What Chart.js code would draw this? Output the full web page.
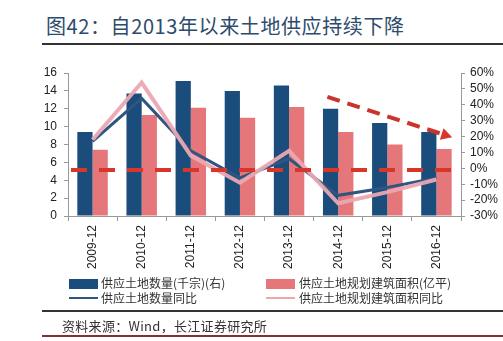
<!DOCTYPE html>
<html>
<head>
<meta charset="utf-8">
<script src="https://cdn.jsdelivr.net/npm/chart.js@4.4.1/dist/chart.umd.min.js"></script>
<style>
  body { margin: 0; width: 503px; height: 341px; background: #fff; position: relative; overflow: hidden;
         font-family: "Noto Sans CJK SC", "Noto Sans", sans-serif; }
  #title { position: absolute; left: 46px; top: 11px; font-size: 20px; color: #2d4b6c; letter-spacing: 0.6px; }
  .rule { position: absolute; left: 42px; right: 0; height: 2px; background: #333; }
  #chartBox { position: absolute; left: 0; top: 56px; width: 503px; height: 220px; }
  .leg { position: absolute; font-size: 12px; color: #333; line-height: 14px; white-space: nowrap; }
  .sw { position: absolute; }
  #source { position: absolute; left: 62px; top: 316px; font-size: 13px; color: #333; letter-spacing: 0.3px; }
  #bottomRule { position: absolute; left: 42px; right: 0; top: 335px; height: 2px; background: #8b2b2b; }
</style>
</head>
<body>
<div id="title">图42：自2013年以来土地供应持续下降</div>
<div class="rule" style="top:43px"></div>
<div id="chartBox"><canvas id="chart"></canvas></div>

<div class="sw" style="left:69px;top:279px;width:29px;height:10px;background:#1a4c7c"></div>
<div class="leg" style="left:101px;top:276px">供应土地数量(千宗)(右)</div>
<div class="sw" style="left:266px;top:279px;width:29px;height:10px;background:#e5777b"></div>
<div class="leg" style="left:299px;top:276px">供应土地规划建筑面积(亿平)</div>
<div class="sw" style="left:69px;top:297px;width:29px;height:2px;background:#2f5580"></div>
<div class="leg" style="left:101px;top:291px">供应土地数量同比</div>
<div class="sw" style="left:266px;top:297px;width:29px;height:2px;background:#eaa8b2"></div>
<div class="leg" style="left:299px;top:291px">供应土地规划建筑面积同比</div>

<div class="rule" style="top:310px"></div>
<div id="source">资料来源：Wind，长江证券研究所</div>
<div id="bottomRule"></div>

<script>
const labels = ["2009-12", "2010-12", "2011-12", "2012-12", "2013-12", "2014-12", "2015-12", "2016-12"];
const landCount = [9.4, 13.7, 15.1, 14.0, 14.6, 12.0, 10.4, 9.4];
const floorArea = [7.4, 11.3, 12.1, 11.0, 12.2, 9.4, 8.0, 7.5];
const landCountYoy = [17, 44, 11, -6, 6, -17, -12, -6];
const floorAreaYoy = [18, 54, 8, -9, 11, -22, -15, -7];
const leftTicks = [0, 2, 4, 6, 8, 10, 12, 14, 16];
const rightTicks = [-30, -20, -10, 0, 10, 20, 30, 40, 50, 60];
// red dashed guides: flat level (right axis %) and falling trend arrow [index, %]
const flatLevel = [-1];
const trendFrom = [4.78, 45];
const trendTo = [7.32, 19.5];

const guides = {
  id: "guides",
  afterDatasetsDraw(chart) {
    const { ctx, chartArea, scales } = chart;
    const x = scales.x, y = scales.y1;
    ctx.save();
    ctx.strokeStyle = "#d8362a";
    ctx.lineWidth = 4;
    ctx.setLineDash([16, 12]);
    const fy = y.getPixelForValue(flatLevel[0]);
    ctx.beginPath();
    ctx.moveTo(chartArea.left + 3, fy);
    ctx.lineTo(chartArea.right - 2, fy);
    ctx.stroke();

    const x0 = x.getPixelForValue(trendFrom[0]), y0 = y.getPixelForValue(trendFrom[1]);
    const x1 = x.getPixelForValue(trendTo[0]), y1 = y.getPixelForValue(trendTo[1]);
    const ang = Math.atan2(y1 - y0, x1 - x0);
    const head = 11;
    const bx = x1 - Math.cos(ang) * head, by = y1 - Math.sin(ang) * head;
    ctx.strokeStyle = "#c9342b";
    ctx.setLineDash([13, 8]);
    ctx.beginPath();
    ctx.moveTo(x0, y0);
    ctx.lineTo(bx, by);
    ctx.stroke();
    ctx.setLineDash([]);
    ctx.fillStyle = "#d8362a";
    ctx.beginPath();
    ctx.moveTo(x1, y1);
    ctx.lineTo(bx + Math.sin(ang) * 6, by - Math.cos(ang) * 6);
    ctx.lineTo(bx - Math.sin(ang) * 6, by + Math.cos(ang) * 6);
    ctx.closePath();
    ctx.fill();
    ctx.restore();
  }
};

const tickFont = { family: "Liberation Sans, Arial, sans-serif", size: 12 };

new Chart(document.getElementById("chart"), {
  data: {
    labels,
    datasets: [
      { type: "bar", label: "供应土地数量(千宗)(右)", data: landCount, backgroundColor: "#1a4c7c",
        yAxisID: "y", order: 2, categoryPercentage: 0.62, barPercentage: 1 },
      { type: "bar", label: "供应土地规划建筑面积(亿平)", data: floorArea, backgroundColor: "#e5777b",
        yAxisID: "y", order: 2, categoryPercentage: 0.62, barPercentage: 1 },
      { type: "line", label: "供应土地数量同比", data: landCountYoy, borderColor: "#2f5580",
        borderWidth: 3, pointRadius: 0, yAxisID: "y1", order: 1 },
      { type: "line", label: "供应土地规划建筑面积同比", data: floorAreaYoy, borderColor: "rgba(234,168,178,0.95)",
        borderWidth: 4, pointRadius: 0, yAxisID: "y1", order: 0 }
    ]
  },
  options: {
    responsive: true,
    maintainAspectRatio: false,
    animation: false,
    layout: { padding: { top: 17, left: 0, right: 0, bottom: 0 } },
    plugins: { legend: { display: false }, tooltip: { enabled: false } },
    scales: {
      x: {
        offset: true,
        grid: { offset: true, drawOnChartArea: false, tickLength: 5, color: "#999" },
        border: { color: "#999" },
        ticks: { minRotation: 90, maxRotation: 90, color: "#222", font: tickFont, padding: 4 },
        afterFit(s) { s.height = 60; }
      },
      y: {
        position: "left",
        min: 0, max: 16,
        afterBuildTicks(s) { s.ticks = leftTicks.map(v => ({ value: v })); },
        grid: { drawOnChartArea: false, tickLength: 4, color: "#999" },
        border: { color: "#999" },
        ticks: { color: "#222", font: tickFont, padding: 7, autoSkip: false },
        afterFit(s) { s.width = 68; }
      },
      y1: {
        position: "right",
        min: -30, max: 60,
        afterBuildTicks(s) { s.ticks = rightTicks.map(v => ({ value: v })); },
        grid: { drawOnChartArea: false, tickLength: 4, color: "#999" },
        border: { color: "#999" },
        ticks: { color: "#222", font: tickFont, padding: 5, autoSkip: false, callback: v => v + "%" },
        afterFit(s) { s.width = 42; }
      }
    }
  },
  plugins: [guides]
});
</script>
</body>
</html>
